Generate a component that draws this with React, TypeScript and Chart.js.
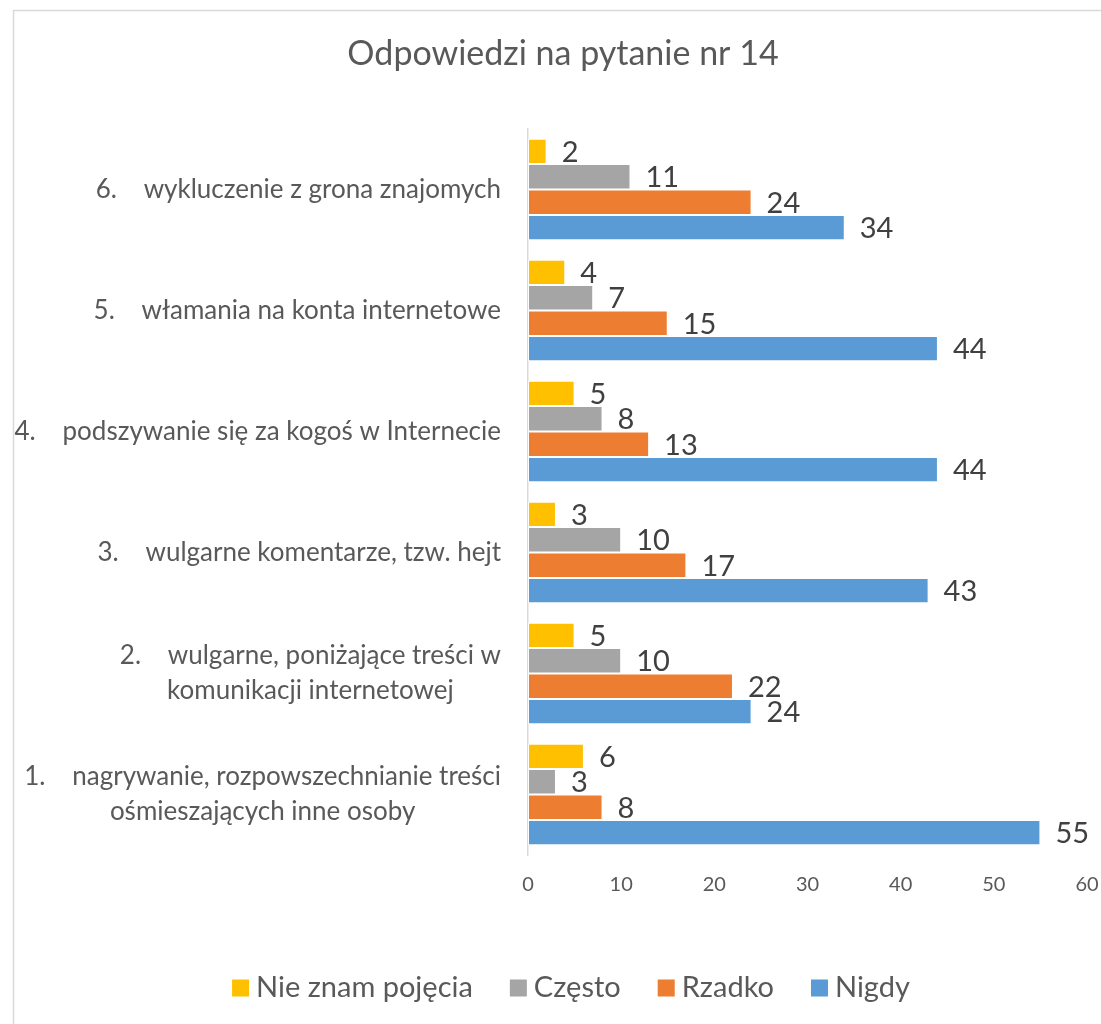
import React, { useEffect, useRef } from "react";
import { Chart, registerables } from "chart.js";

Chart.register(...registerables);

// ---- data ----
const chartTitle = "Odpowiedzi na pytanie nr 14";
const categoryNumbers = ["6.", "5.", "4.", "3.", "2.", "1."];
const categoryLines: string[][] = [
  ["wykluczenie z grona znajomych"],
  ["włamania na konta internetowe"],
  ["podszywanie się za kogoś w Internecie"],
  ["wulgarne komentarze, tzw. hejt"],
  ["wulgarne, poniżające treści w", "komunikacji internetowej"],
  ["nagrywanie, rozpowszechnianie treści", "ośmieszających inne osoby"],
];
const seriesNames = ["Nie znam pojęcia", "Często", "Rzadko", "Nigdy"];
const seriesColors = ["#FFC000", "#A5A5A5", "#ED7D31", "#5B9BD5"];
const nieZnamPojecia = [2, 4, 5, 3, 5, 6];
const czesto = [11, 7, 8, 10, 10, 3];
const rzadko = [24, 15, 13, 17, 22, 8];
const nigdy = [34, 44, 44, 43, 24, 55];
const xMin = 0;
const xMax = 60;
const xStep = 10;

const FONT = "Lato, 'Open Sans', sans-serif";
const TEXT = "#595959";

const decorPlugin = {
  id: "decor",
  beforeDraw(chart: any) {
    const ctx = chart.ctx;
    ctx.save();
    ctx.fillStyle = "#ffffff";
    ctx.fillRect(0, 0, chart.width, chart.height);
    ctx.strokeStyle = "#d9d9d9";
    ctx.lineWidth = 1.5;
    ctx.beginPath();
    ctx.moveTo(13.5, chart.height);
    ctx.lineTo(13.5, 10.5);
    ctx.lineTo(chart.width, 10.5);
    ctx.stroke();
    ctx.restore();
  },
  afterDraw(chart: any) {
    const ctx = chart.ctx;
    ctx.save();
    // title
    ctx.fillStyle = TEXT;
    ctx.font = `34px ${FONT}`;
    ctx.textAlign = "center";
    ctx.textBaseline = "middle";
    ctx.fillText(chartTitle, 563, 54);

    // category labels
    const yScale = chart.scales.y;
    ctx.font = `26px ${FONT}`;
    ctx.textAlign = "left";
    const TAB = 48;
    const rightEdge = 501;
    const lineH = 35;
    categoryLines.forEach((lines, i) => {
      const cy = yScale.getPixelForValue(i);
      const widths = lines.map((l, j) => (j === 0 ? TAB : 0) + ctx.measureText(l).width);
      const blockW = Math.max(...widths);
      const center = rightEdge - blockW / 2;
      lines.forEach((l, j) => {
        const y = cy + (j - (lines.length - 1) / 2) * lineH;
        const x0 = center - widths[j] / 2;
        if (j === 0) {
          ctx.fillText(categoryNumbers[i], x0, y);
          ctx.fillText(l, x0 + TAB, y);
        } else {
          ctx.fillText(l, x0, y);
        }
      });
    });

    // data labels
    ctx.fillStyle = "#404040";
    ctx.font = `29px ${FONT}`;
    chart.data.datasets.forEach((ds: any, di: number) => {
      const meta = chart.getDatasetMeta(di);
      meta.data.forEach((el: any, idx: number) => {
        ctx.fillText(String(ds.data[idx]), el.x + 15, el.y + 1);
      });
    });

    // legend
    ctx.font = `29px ${FONT}`;
    const box = 17;
    const gapBoxText = 7;
    const gapItems = 37;
    const items = chart.data.datasets.map((ds: any) => ({
      label: ds.label,
      color: ds.backgroundColor,
      w: box + gapBoxText + ctx.measureText(ds.label).width,
    }));
    const total = items.reduce((s: number, it: any) => s + it.w, 0) + gapItems * (items.length - 1);
    let x = 571 - total / 2;
    const ly = 988;
    items.forEach((it: any) => {
      ctx.fillStyle = it.color;
      ctx.fillRect(x, ly - box / 2, box, box);
      ctx.fillStyle = TEXT;
      ctx.fillText(it.label, x + box + gapBoxText, ly);
      x += it.w + gapItems;
    });
    ctx.restore();
  },
};

export default function App() {
  const canvasRef = useRef<HTMLCanvasElement | null>(null);

  useEffect(() => {
    let chart: Chart | null = null;
    let cancelled = false;
    const make = () => {
      if (cancelled || !canvasRef.current) return;
      const datasets = [nieZnamPojecia, czesto, rzadko, nigdy].map((d, i) => ({
        label: seriesNames[i],
        data: d,
        backgroundColor: seriesColors[i],
        borderColor: "#ffffff",
        borderWidth: 1,
        borderSkipped: false as const,
        categoryPercentage: 0.84,
        barPercentage: 1.0,
      }));
      chart = new Chart(canvasRef.current, {
        type: "bar",
        data: {
          labels: categoryNumbers.map((n, i) => n + " " + categoryLines[i].join(" ")),
          datasets,
        },
        options: {
          indexAxis: "y",
          responsive: false,
          animation: false,
          layout: { padding: { left: 528, right: 14, top: 129, bottom: 109 } },
          plugins: {
            legend: { display: false },
            title: { display: false },
            tooltip: { enabled: false },
          },
          scales: {
            x: {
              min: xMin,
              max: xMax,
              grid: { display: false, drawTicks: false },
              border: { display: false },
              ticks: {
                stepSize: xStep,
                color: TEXT,
                font: { family: FONT, size: 20 },
                padding: 18,
              },
              afterFit: (s: any) => {
                s.height = 60;
                s.paddingLeft = 0;
                s.paddingRight = 0;
              },
            },
            y: {
              grid: { display: false, drawTicks: false },
              border: { display: true, color: "#d9d9d9", width: 1.5 },
              ticks: { display: false },
              afterFit: (s: any) => {
                s.width = 0;
                s.paddingTop = 0;
                s.paddingBottom = 0;
              },
            },
          },
        },
        plugins: [decorPlugin],
      });
    };
    const fonts = (document as any).fonts;
    if (fonts && fonts.load) {
      Promise.all([fonts.load(`26px Lato`), fonts.load(`29px Lato`)])
        .catch(() => null)
        .then(make);
    } else {
      make();
    }
    return () => {
      cancelled = true;
      if (chart) chart.destroy();
    };
  }, []);

  return (
    <div style={{ position: "fixed", left: 0, top: 0, width: 1101, height: 1024, background: "#fff" }}>
      <canvas ref={canvasRef} width={1101} height={1024} style={{ display: "block" }} />
    </div>
  );
}
